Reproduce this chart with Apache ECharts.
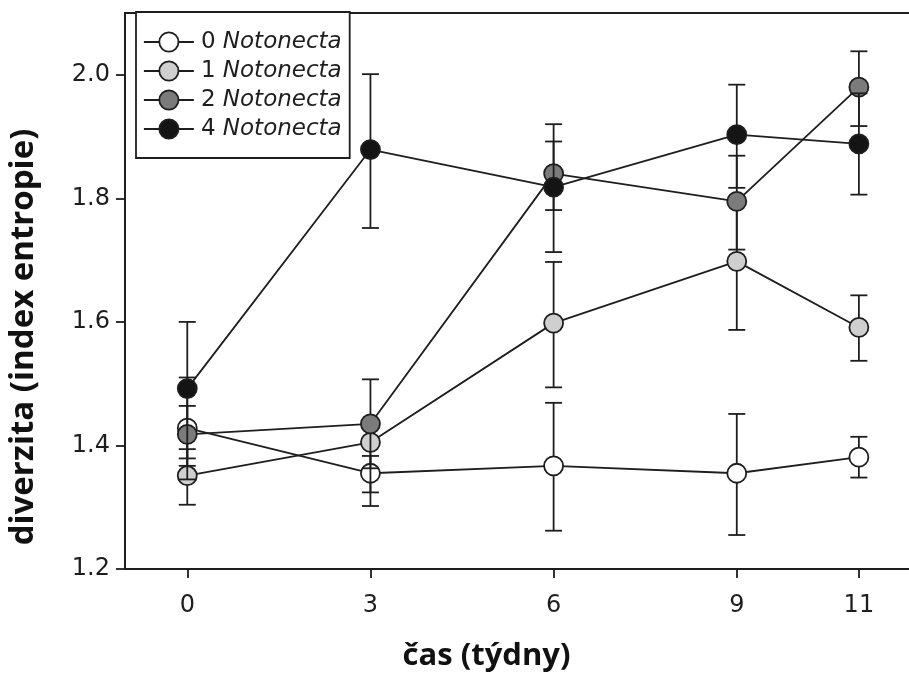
<!DOCTYPE html>
<html>
<head>
<meta charset="utf-8">
<script src="https://cdn.jsdelivr.net/npm/echarts@6/dist/echarts.min.js"></script>
<style>
  html, body { margin: 0; padding: 0; background: #fff; }
  #chart { width: 909px; height: 674px; }
</style>
</head>
<body>
<div id="chart"></div>
<script>
// ---- data ----
const weeks = [0, 3, 6, 9, 11];
const seriesNames = ['0 Notonecta', '1 Notonecta', '2 Notonecta', '4 Notonecta'];

const mean0 = [1.428, 1.355, 1.367, 1.355, 1.381];
const low0  = [1.367, 1.302, 1.262, 1.255, 1.348];
const high0 = [1.464, 1.383, 1.469, 1.451, 1.414];

const mean1 = [1.351, 1.405, 1.598, 1.698, 1.591];
const low1  = [1.304, 1.324, 1.494, 1.587, 1.537];
const high1 = [1.394, 1.440, 1.697, 1.800, 1.643];

const mean2 = [1.418, 1.435, 1.840, 1.795, 1.980];
const low2  = [1.345, 1.363, 1.781, 1.717, 1.917];
const high2 = [1.510, 1.507, 1.892, 1.869, 2.038];

const mean4 = [1.492, 1.879, 1.818, 1.903, 1.888];
const low4  = [1.379, 1.752, 1.713, 1.817, 1.806];
const high4 = [1.600, 2.001, 1.920, 1.984, 1.970];

const xTickValues = [0, 3, 6, 9, 11];
const yTickValues = [1.2, 1.4, 1.6, 1.8, 2.0];

const xTitle = 'čas (týdny)';
const yTitle = 'diverzita (index entropie)';

// ---- styles ----
const fills = ['#ffffff', '#cfcfcf', '#7b7b7b', '#141414'];
const ink = '#1e1e1e';
const lw = 1.8;
const tickFont = 'DejaVu Sans';

const groups = [
  { mean: mean0, low: low0, high: high0 },
  { mean: mean1, low: low1, high: high1 },
  { mean: mean2, low: low2, high: high2 },
  { mean: mean4, low: low4, high: high4 }
];

const series = [];
groups.forEach((g, i) => {
  series.push({
    type: 'custom',
    name: 'err' + i,
    z: 2 + 2 * i,
    data: weeks.map((w, k) => [w, g.low[k], g.high[k]]),
    encode: { x: 0, y: [1, 2] },
    renderItem: function (params, api) {
      const x = api.value(0);
      const p1 = api.coord([x, api.value(1)]);
      const p2 = api.coord([x, api.value(2)]);
      const w = 8.5;
      const st = { stroke: ink, lineWidth: lw };
      return {
        type: 'group',
        children: [
          { type: 'line', shape: { x1: p1[0], y1: p1[1], x2: p2[0], y2: p2[1] }, style: st },
          { type: 'line', shape: { x1: p1[0] - w, y1: p1[1], x2: p1[0] + w, y2: p1[1] }, style: st },
          { type: 'line', shape: { x1: p2[0] - w, y1: p2[1], x2: p2[0] + w, y2: p2[1] }, style: st }
        ]
      };
    }
  });
  series.push({
    type: 'line',
    name: seriesNames[i],
    z: 3 + 2 * i,
    data: weeks.map((w, k) => [w, g.mean[k]]),
    symbol: 'circle',
    symbolSize: 19,
    showSymbol: true,
    lineStyle: { color: ink, width: lw },
    itemStyle: { color: fills[i], borderColor: ink, borderWidth: lw },
    emphasis: { disabled: true }
  });
});

const chart = echarts.init(document.getElementById('chart'), null, { renderer: 'canvas' });
chart.setOption({
  animation: false,
  backgroundColor: '#ffffff',
  grid: {
    left: 125, right: -3, top: 13, bottom: 105,
    show: true, borderColor: ink, borderWidth: lw,
    containLabel: false, outerBoundsMode: 'none'
  },
  legend: {
    data: seriesNames,
    orient: 'vertical',
    left: 136, top: 12,
    padding: [18, 8, 17, 7],
    itemGap: 5,
    itemWidth: 50,
    itemHeight: 24,
    backgroundColor: '#ffffff',
    borderColor: ink,
    borderWidth: lw,
    borderRadius: 0,
    z: 20,
    selectedMode: false,
    itemStyle: { borderColor: ink, borderWidth: lw },
    lineStyle: { color: ink, width: lw },
    formatter: function (name) {
      const parts = name.split(' ');
      return '{n|' + parts[0] + ' }{i|' + parts.slice(1).join(' ') + '}';
    },
    textStyle: {
      fontFamily: tickFont, fontSize: 23, color: ink, padding: [0, 0, 0, 2], lineHeight: 24,
      rich: {
        n: { fontFamily: tickFont, fontSize: 23, color: ink, lineHeight: 24 },
        i: { fontFamily: tickFont, fontSize: 23, color: ink, fontStyle: 'italic', lineHeight: 24 }
      }
    }
  },
  xAxis: {
    type: 'value',
    min: -1.02, max: 11.87,
    splitLine: { show: false },
    axisLine: { show: true, onZero: false, lineStyle: { color: ink, width: lw } },
    axisTick: { show: true, inside: false, length: 9, lineStyle: { color: ink, width: lw }, customValues: xTickValues },
    axisLabel: { show: true, margin: 25, fontFamily: tickFont, fontSize: 24, color: ink, customValues: xTickValues },
    name: xTitle,
    nameLocation: 'middle',
    nameGap: 72,
    nameTextStyle: { fontFamily: 'Open Sans', fontWeight: 'bold', fontSize: 31, color: '#111', padding: [0, 64, 0, 0] }
  },
  yAxis: {
    type: 'value',
    min: 1.2, max: 2.1,
    splitLine: { show: false },
    axisLine: { show: true, onZero: false, lineStyle: { color: ink, width: lw } },
    axisTick: { show: true, inside: false, length: 9, lineStyle: { color: ink, width: lw }, customValues: yTickValues },
    axisLabel: {
      show: true, margin: 15, fontFamily: tickFont, fontSize: 24, color: ink,
      customValues: yTickValues,
      formatter: function (v) { return v.toFixed(1); }
    },
    name: yTitle,
    nameLocation: 'middle',
    nameRotate: 90,
    nameGap: 85,
    nameTextStyle: { fontFamily: 'Open Sans', fontWeight: 'bold', fontSize: 33, color: '#111', padding: [0, 92, 0, 0] }
  },
  series: series
});
</script>
</body>
</html>
